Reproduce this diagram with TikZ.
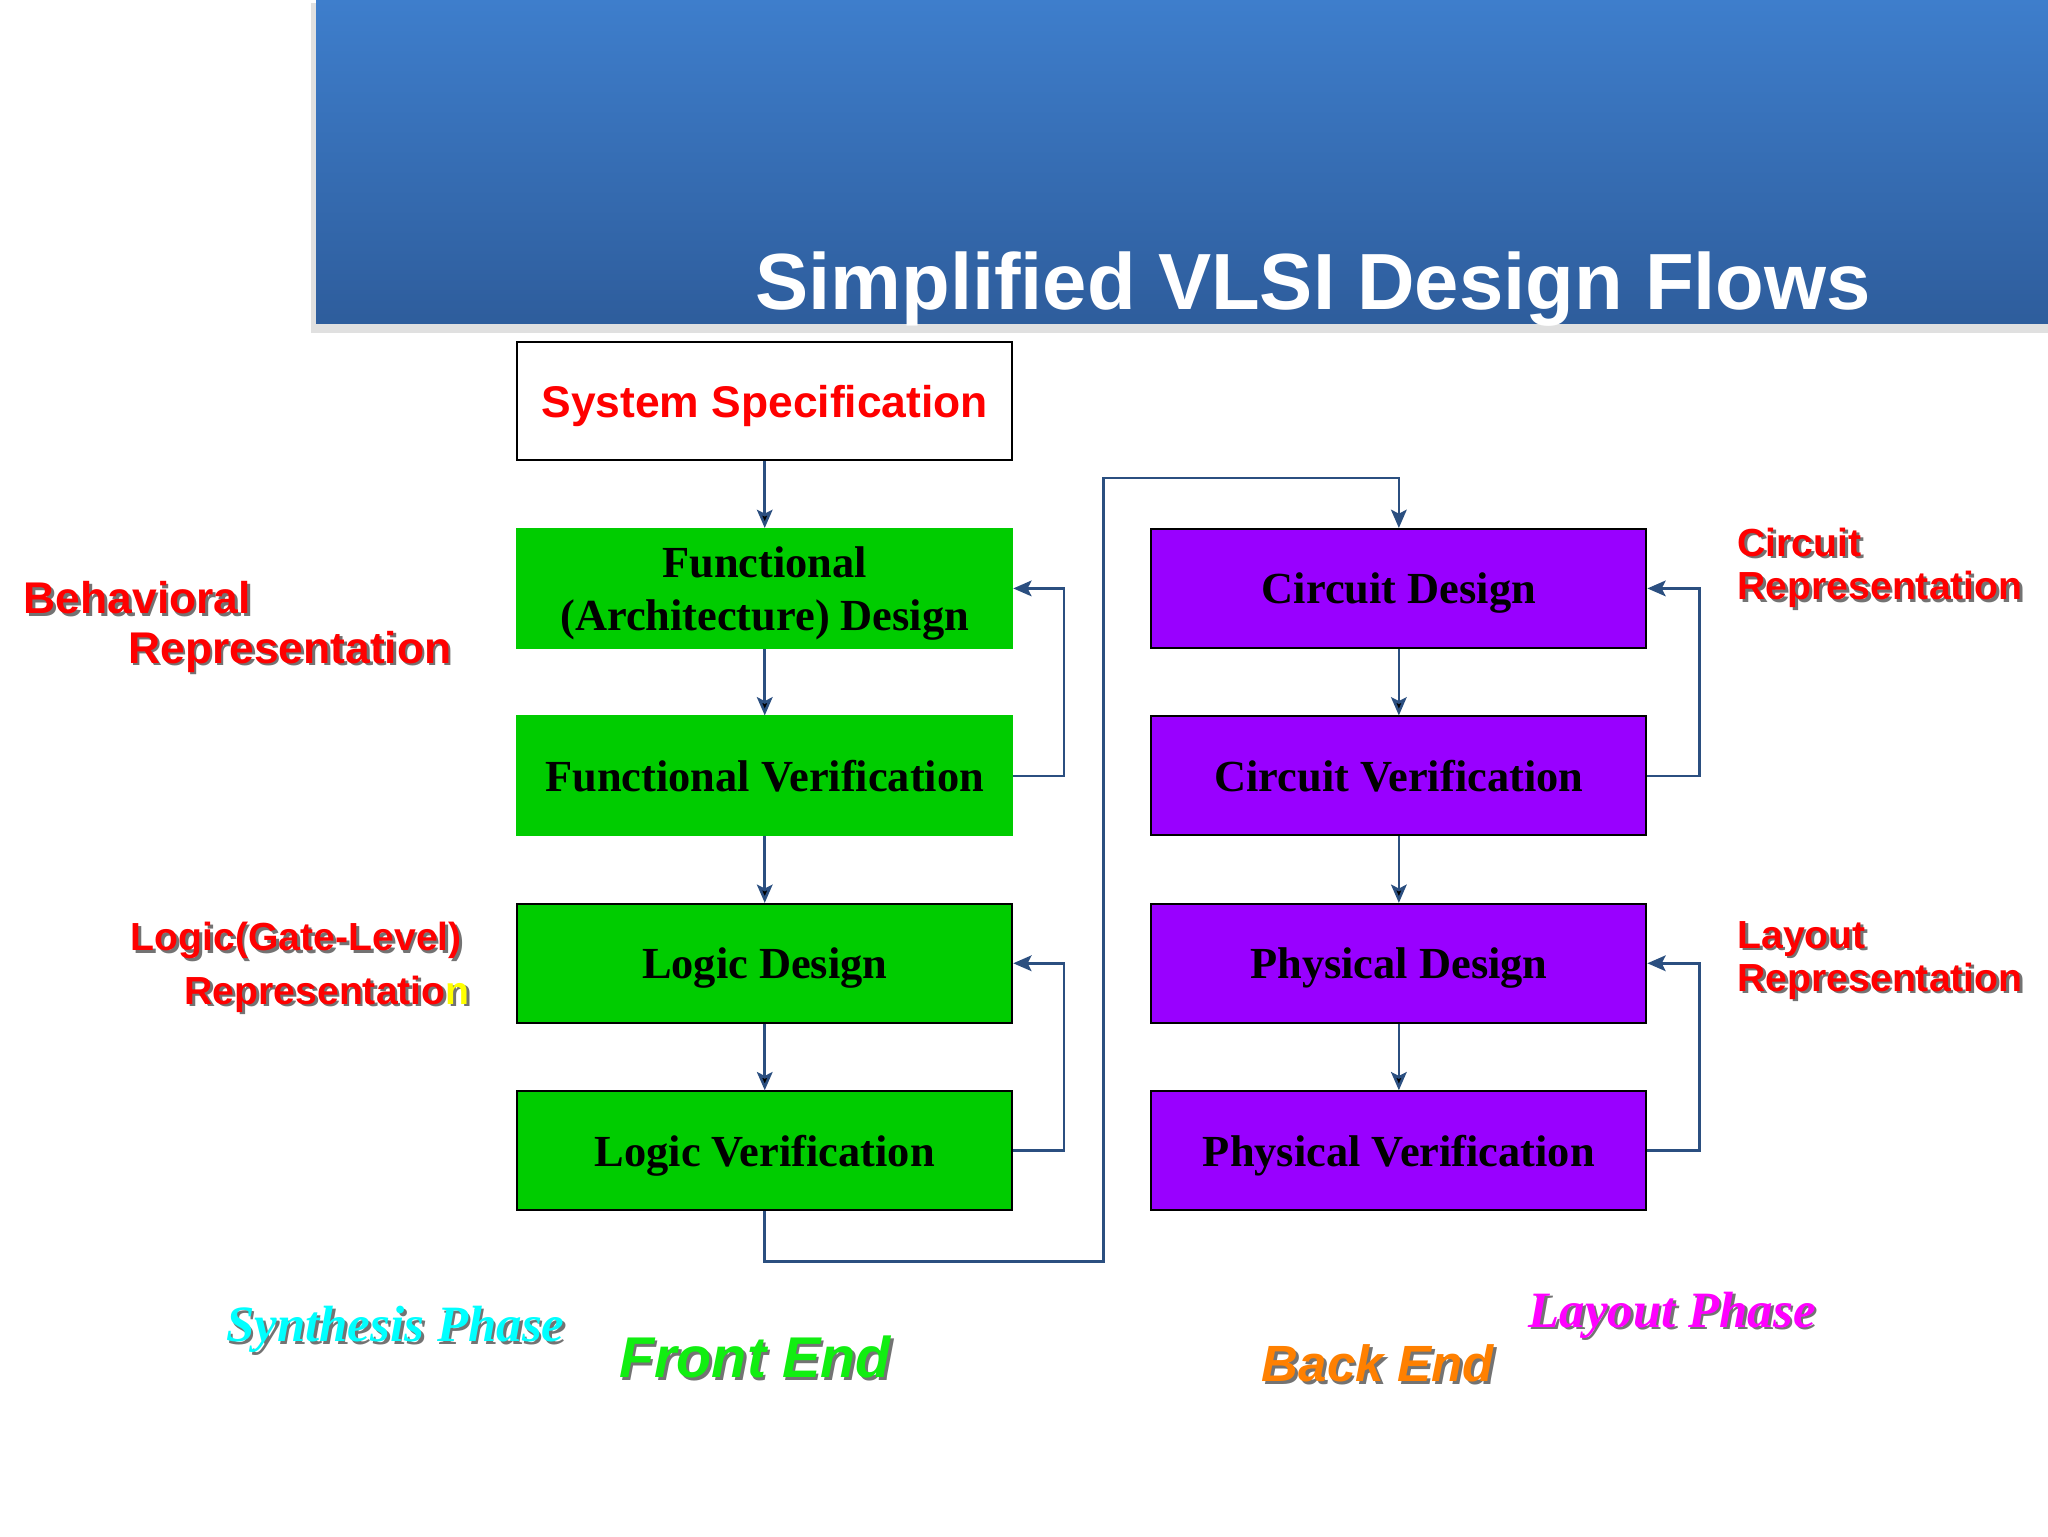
\documentclass[tikz,border=0pt]{standalone}
\usepackage{fontspec}
\setmainfont{Liberation Serif}
\setsansfont{Liberation Sans}
\usepackage{tikz}
\usetikzlibrary{arrows.meta, positioning, shapes.geometric}
\usepackage{xcolor}

\definecolor{frontgreen}{HTML}{00CC00}
\definecolor{backpurple}{HTML}{9900FF}
\definecolor{flowblue}{HTML}{2B4F80}
\definecolor{bannertop}{HTML}{3E7ECC}
\definecolor{bannerbot}{HTML}{2E5D9C}
\definecolor{labelred}{HTML}{FF0000}
\definecolor{synthcyan}{HTML}{00FFFF}
\definecolor{layoutmagenta}{HTML}{FF00FF}
\definecolor{frontlabel}{HTML}{11EE11}
\definecolor{backlabel}{HTML}{FF8000}
\definecolor{lastletter}{HTML}{FFFF00}

% text with a grey drop shadow; \hilite marks letters drawn in yellow
\newcommand{\hilite}[1]{#1}
\newcommand{\shadowed}[2]{\makebox[0pt][l]{\hspace{2pt}\raisebox{-2pt}{\color{black!55}#2}}{\color{#1}\renewcommand{\hilite}[1]{\textcolor{lastletter}{##1}}#2}}

\begin{document}
\begin{tikzpicture}[x=1pt,y=1pt,node distance=143.5pt]
  \tikzstyle{stage}=[rectangle, minimum width=379pt, minimum height=91pt, inner sep=0pt,
    text depth=0pt, line width=1.5pt, align=center,
    font=\rmfamily\bfseries\fontsize{34}{41}\selectfont]
  \tikzstyle{specbox}=[stage, draw=black, fill=white, text=red,
    font=\sffamily\bfseries\fontsize{34}{41}\selectfont]
  \tikzstyle{frontbox}=[stage, draw=frontgreen, fill=frontgreen]
  \tikzstyle{gatebox}=[stage, draw=black, fill=frontgreen]
  \tikzstyle{backbox}=[stage, draw=black, fill=backpurple]
  \tikzstyle{flow}=[draw=flowblue, line width=2pt, -{Stealth[length=14pt,width=12pt,inset=3pt]}]
  \tikzstyle{replabel}=[inner sep=0pt, anchor=north west, align=left]

  \useasboundingbox (0,0) rectangle (1568,-1176);

  % title banner
  \fill[black!12] (238,-2) rectangle (1568,-255);
  \shade[top color=bannertop, bottom color=bannerbot] (242,0) rectangle (1568,-248);
  \node[anchor=base west, inner sep=0pt, text=white,
    font=\sffamily\bfseries\fontsize{61}{72}\selectfont] (title) at (578,-237)
    {Simplified VLSI Design Flows};

  % front end column
  \node[specbox]  (spec)                      at (585.5,-307) {System Specification};
  \node[frontbox] (fdesign) [below of=spec]    {Functional\\(Architecture) Design};
  \node[frontbox] (fverif)  [below of=fdesign] {Functional Verification};
  \node[gatebox]  (ldesign) [below of=fverif]  {Logic Design};
  \node[gatebox]  (lverif)  [below of=ldesign] {Logic Verification};

  % back end column
  \node[backbox] (cdesign) [node distance=485.5pt, right of=fdesign] {Circuit Design};
  \node[backbox] (cverif)  [below of=cdesign] {Circuit Verification};
  \node[backbox] (pdesign) [below of=cverif]  {Physical Design};
  \node[backbox] (pverif)  [below of=pdesign] {Physical Verification};

  \path[flow]
  (spec)    edge (fdesign)
  (fdesign) edge (fverif)
  (fverif)  edge (ldesign)
  (ldesign) edge (lverif)
  (cdesign) edge (cverif)
  (cverif)  edge (pdesign)
  (pdesign) edge (pverif)
  ;

  % feedback loops
  \draw[flow] (fverif.east) -- ++(39,0) |- (fdesign.east);
  \draw[flow] (lverif.east) -- ++(39,0) |- (ldesign.east);
  \draw[flow] (cverif.east) -- ++(40,0) |- (cdesign.east);
  \draw[flow] (pverif.east) -- ++(40,0) |- (pdesign.east);

  % hand-over from front end to back end
  \coordinate (lowturn)  at (845,-966);
  \coordinate (highturn) at (845,-366);
  \draw[flow] (lverif.south) |- (lowturn) -- (highturn) -| (cdesign.north);

  % representation labels
  \node[replabel, font=\sffamily\bfseries\fontsize{34}{38}\selectfont] (behav) at (18,-445)
    {\shadowed{labelred}{Behavioral}\\\hspace*{80pt}\shadowed{labelred}{Representation}};
  \node[replabel, font=\sffamily\bfseries\fontsize{30}{41}\selectfont] (gatelvl) at (100,-706)
    {\shadowed{labelred}{Logic(Gate-Level)}\\\hspace*{41pt}\shadowed{labelred}{Representatio\hilite{n}}};
  \node[replabel, font=\sffamily\bfseries\fontsize{30}{33}\selectfont] (circrep) at (1330,-404)
    {\shadowed{labelred}{Circuit}\\\shadowed{labelred}{Representation}};
  \node[replabel, font=\sffamily\bfseries\fontsize{30}{33}\selectfont] (layrep) at (1330,-705)
    {\shadowed{labelred}{Layout}\\\shadowed{labelred}{Representation}};

  % phase labels
  \node[anchor=base west, inner sep=0pt, font=\rmfamily\bfseries\itshape\fontsize{39}{47}\selectfont]
    (synth) at (173,-1027) {\shadowed{synthcyan}{Synthesis Phase}};
  \node[anchor=base west, inner sep=0pt, font=\sffamily\bfseries\itshape\fontsize{44}{52}\selectfont]
    (front) at (474,-1055) {\shadowed{frontlabel}{Front End}};
  \node[anchor=base west, inner sep=0pt, font=\sffamily\bfseries\itshape\fontsize{39}{47}\selectfont]
    (back) at (966,-1058) {\shadowed{backlabel}{Back End}};
  \node[anchor=base west, inner sep=0pt, font=\rmfamily\bfseries\itshape\fontsize{39}{47}\selectfont]
    (layph) at (1170,-1016) {\shadowed{layoutmagenta}{Layout Phase}};
\end{tikzpicture}
\end{document}
